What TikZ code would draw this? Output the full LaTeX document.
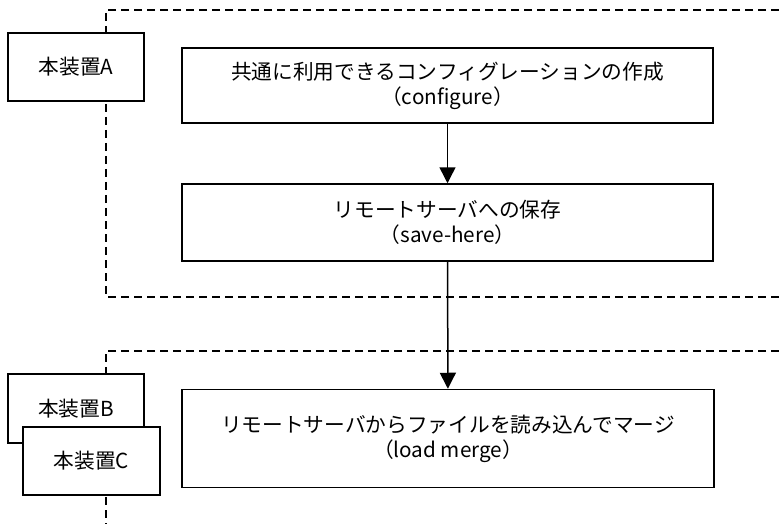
\documentclass[tikz,border=0pt]{standalone}
\usepackage{fontspec}
\setmainfont{Noto Sans CJK JP}
\usetikzlibrary{arrows.meta}
\begin{document}
\begin{tikzpicture}[x=1pt,y=-1pt,
  box/.style={draw=black,line width=1.5pt,fill=white,inner sep=0pt,align=center,
    font=\fontsize{20.7}{25}\selectfont},
  region/.style={draw=black,line width=1.4pt,dash pattern=on 8pt off 5pt},
  flow/.style={draw=black,line width=1.5pt,-{Triangle[width=16pt,length=16pt]}}]
\useasboundingbox (0,0) rectangle (779,524);
\fill[white] (0,0) rectangle (779,524);
% regions
\coordinate (r1a) at (779,10);
\coordinate (r1b) at (106,10);
\coordinate (r1c) at (106,297);
\coordinate (r1d) at (779,297);
\draw[region] (r1a) -- (r1b) -- (r1c) -- (r1d);
\coordinate (r2a) at (779,351);
\coordinate (r2b) at (106,351);
\coordinate (r2c) at (106,524);
\draw[region] (r2a) -- (r2b) -- (r2c);
% device boxes
\node[box,minimum width=136pt,minimum height=68pt] (A) at (76,67) {本装置A};
\node[box,minimum width=136pt,minimum height=69pt] (B) at (76,408.5) {本装置B};
\node[box,minimum width=137pt,minimum height=68pt] (C) at (91.5,461) {本装置C};
% steps
\node[box,minimum width=531pt,minimum height=75pt] (s1) at (447.5,85.5)
  {共通に利用できるコンフィグレーションの作成\\（configure）};
\node[box,minimum width=531pt,minimum height=77pt] (s2) at (447.5,222.5)
  {リモートサーバへの保存\\（save-here）};
\node[box,minimum width=532pt,minimum height=98pt] (s3) at (448,438.5)
  {リモートサーバからファイルを読み込んでマージ\\（load merge）};
% arrows
\draw[flow] (s1) -- (s2);
\draw[flow] (s2) -- (s3);
\end{tikzpicture}
\end{document}
